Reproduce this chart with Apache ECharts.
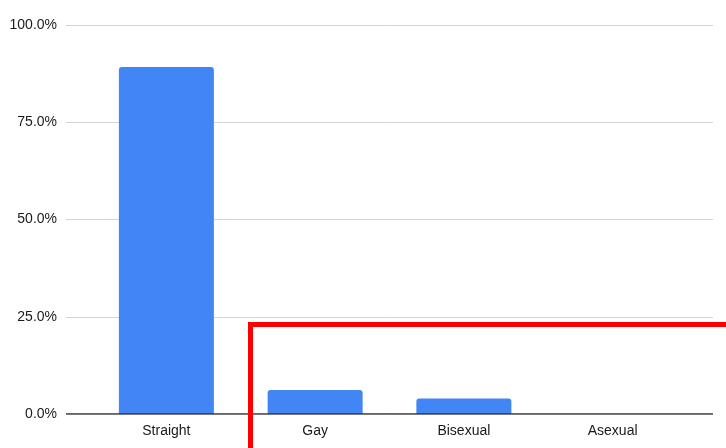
<!DOCTYPE html>
<html>
<head>
<meta charset="utf-8">
<script src="https://cdn.jsdelivr.net/npm/echarts@6/dist/echarts.min.js"></script>
<style>
  html, body { margin: 0; padding: 0; background: #fff; }
  #chart { width: 726px; height: 448px; }
</style>
</head>
<body>
<div id="chart"></div>
<script>
// Orientation categories and their share of respondents (%)
const categories = ['Straight', 'Gay', 'Bisexual', 'Asexual'];
const shares = [89.2, 6.2, 4.0, 0];
const yTicks = [0, 25, 50, 75, 100];

const FONT = 'Liberation Sans, Arial, Helvetica, sans-serif';
const chart = echarts.init(document.getElementById('chart'));

chart.setOption({
  animation: false,
  backgroundColor: '#ffffff',
  grid: [
    // full-width grid carrying gridlines, y labels and the baseline
    { left: 66, right: 13, top: 25, bottom: 34 },
    // inner band where the bars sit
    { left: 92, right: 39, top: 25, bottom: 34 }
  ],
  xAxis: [
    {
      gridIndex: 0, type: 'value', min: 0, max: 1,
      axisLine: { show: false }, axisTick: { show: false },
      axisLabel: { show: false }, splitLine: { show: false }
    },
    {
      gridIndex: 1, type: 'category', data: categories,
      axisLine: { show: false }, axisTick: { show: false },
      axisLabel: { color: '#1a1a1a', fontFamily: FONT, fontSize: 14, margin: 10 }
    }
  ],
  yAxis: [
    {
      gridIndex: 0, type: 'value', min: yTicks[0], max: yTicks[yTicks.length - 1], interval: 25,
      axisLine: { show: false }, axisTick: { show: false },
      axisLabel: {
        color: '#1a1a1a', fontFamily: FONT, fontSize: 14, margin: 9,
        formatter: v => v.toFixed(1) + '%'
      },
      splitLine: { lineStyle: { color: '#d3d3d3', width: 1 } }
    },
    {
      gridIndex: 1, type: 'value', min: 0, max: 100,
      axisLine: { show: false }, axisTick: { show: false },
      axisLabel: { show: false }, splitLine: { show: false }
    }
  ],
  series: [
    {
      type: 'bar',
      xAxisIndex: 1, yAxisIndex: 1,
      data: shares,
      barWidth: 95,
      itemStyle: { color: '#4285f4', borderRadius: [3, 3, 0, 0] },
      z: 3
    },
    {
      // dark baseline at 0%
      type: 'line',
      xAxisIndex: 0, yAxisIndex: 0,
      data: [[0, 0], [1, 0]],
      symbol: 'none',
      lineStyle: { color: '#333', width: 1.5 },
      z: 4
    }
  ],
  graphic: [
    {
      type: 'rect',
      shape: { x: 250.5, y: 324.5, width: 600, height: 300 },
      style: { fill: 'none', stroke: '#ff0000', lineWidth: 5 },
      z: 100
    }
  ]
});
</script>
</body>
</html>
